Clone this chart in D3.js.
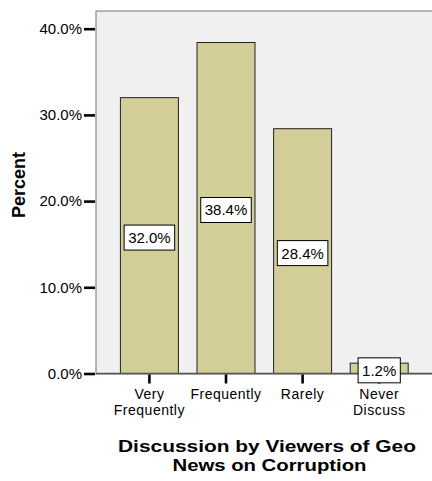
<!DOCTYPE html>
<html>
<head>
<meta charset="utf-8">
<script src="https://cdn.jsdelivr.net/npm/d3@7"></script>
<style>
  html, body { margin: 0; padding: 0; background: #fff; }
  svg { display: block; }
  text { font-family: "Liberation Sans", Arial, sans-serif; fill: #000; }
</style>
</head>
<body>
<svg id="chart" width="432" height="481"></svg>
<script>
const categories = [["Very", "Frequently"], ["Frequently"], ["Rarely"], ["Never", "Discuss"]];
const values = [32.0, 38.4, 28.4, 1.2];
const valueLabels = ["32.0%", "38.4%", "28.4%", "1.2%"];
const yTicks = [0, 10, 20, 30, 40];
const yTitle = "Percent";
const xTitle = ["Discussion by Viewers of Geo", "News on Corruption"];

const svg = d3.select("#chart");
const frame = { left: 96, right: 433, top: 11, bottom: 374 };

const keys = categories.map(c => c.join(" "));
const x = d3.scaleBand().domain(keys).range([111.1, 417.5]).paddingInner(0.243).paddingOuter(0.1215);
const y = d3.scaleLinear().domain([0, 40]).range([373.5, 28.7]);

// plot background
svg.append("rect")
  .attr("x", frame.left).attr("y", frame.top)
  .attr("width", frame.right - frame.left).attr("height", frame.bottom - frame.top)
  .attr("fill", "#f0f0f0").attr("stroke", "#8a8a8a").attr("stroke-width", 1.2);

// bars
svg.selectAll("rect.bar").data(values).enter().append("rect")
  .attr("class", "bar")
  .attr("x", (d, i) => x(keys[i]))
  .attr("y", d => y(d))
  .attr("width", x.bandwidth())
  .attr("height", d => y(0) - y(d))
  .attr("fill", "#d3cd98")
  .attr("stroke", "#222").attr("stroke-width", 1);

// bottom axis line
svg.append("line").attr("x1", frame.left).attr("x2", frame.right)
  .attr("y1", y(0)).attr("y2", y(0)).attr("stroke", "#555").attr("stroke-width", 1.3);

// Y axis
const yAxis = d3.axisLeft(y).tickValues(yTicks).tickSize(11).tickPadding(2)
  .tickFormat(d => d.toFixed(1) + "%");
const gy = svg.append("g").attr("transform", `translate(${frame.left - 1},0)`).call(yAxis);
gy.select(".domain").remove();
gy.selectAll(".tick line").attr("stroke", "#000").attr("stroke-width", 2.6);
gy.selectAll(".tick text").style("font-size", "15px").style("font-family", "Liberation Sans, Arial, sans-serif").attr("fill", "#000");

// X axis
const xAxis = d3.axisBottom(x).tickSize(9).tickFormat("");
const gx = svg.append("g").attr("transform", `translate(0,${y(0) + 1})`).call(xAxis);
gx.select(".domain").remove();
gx.selectAll(".tick line").attr("stroke", "#000").attr("stroke-width", 2.6);
gx.selectAll(".tick").each(function(d, i) {
  const t = d3.select(this).append("text")
    .attr("text-anchor", "middle")
    .style("font-size", "14px")
    .style("letter-spacing", "0.5px")
    .style("font-family", "Liberation Sans, Arial, sans-serif")
    .attr("fill", "#000");
  categories[i].forEach((line, j) => {
    t.append("tspan").attr("x", 0).attr("y", 24 + j * 16).text(line);
  });
});

// value labels
const lbl = svg.selectAll("g.vlabel").data(values).enter().append("g")
  .attr("class", "vlabel")
  .attr("transform", (d, i) => `translate(${x(keys[i]) + x.bandwidth() / 2},${(y(d) + y(0)) / 2 + 2})`);
lbl.each(function(d, i) {
  const g = d3.select(this);
  const r = g.append("rect").attr("fill", "#fff").attr("stroke", "#000").attr("stroke-width", 1);
  const t = g.append("text").attr("text-anchor", "middle").attr("dy", "0.36em")
    .style("font-size", "15px").text(valueLabels[i]);
  const bb = t.node().getBBox();
  const w = bb.width + 8, h = 25;
  r.attr("x", -w / 2).attr("y", -h / 2).attr("width", w).attr("height", h);
});

// Y title
svg.append("text")
  .attr("transform", `translate(25,185) rotate(-90)`)
  .attr("text-anchor", "middle")
  .style("font-size", "18px").style("font-weight", "bold")
  .text(yTitle);

// X title
const titleWidths = [298, 194];
const titleCenters = [267, 269.5];
xTitle.forEach((line, j) => {
  svg.append("text")
    .attr("x", titleCenters[j]).attr("y", 452 + j * 19)
    .attr("text-anchor", "middle")
    .attr("textLength", titleWidths[j])
    .attr("lengthAdjust", "spacingAndGlyphs")
    .style("font-size", "17px").style("font-weight", "bold")
    .text(line);
});
</script>
</body>
</html>
